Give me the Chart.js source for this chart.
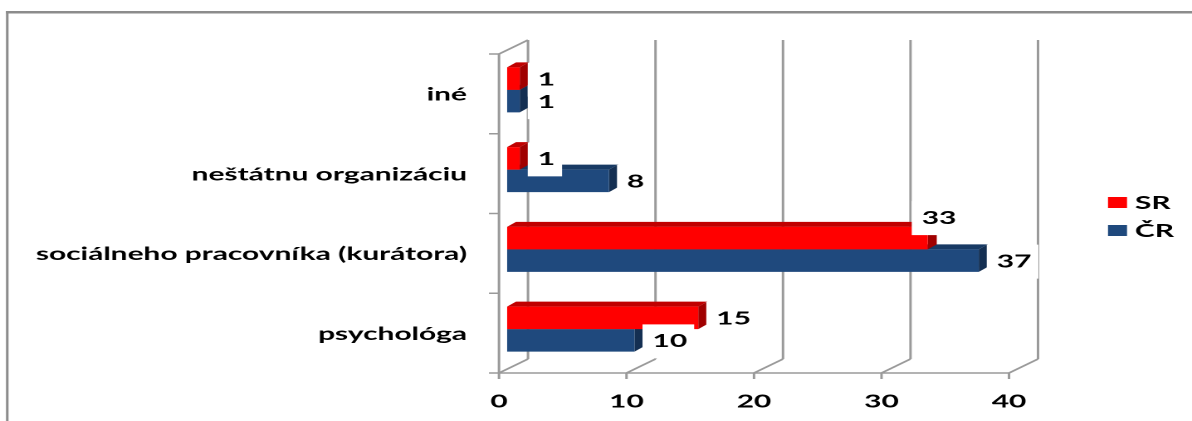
<!DOCTYPE html>
<html lang="sk">
<head>
<meta charset="utf-8">
<title>SR / ČR</title>
<script src="https://cdn.jsdelivr.net/npm/chart.js@4.4.1/dist/chart.umd.min.js"></script>
<style>
  html, body { margin: 0; padding: 0; background: #fff; }
  canvas { display: block; }
</style>
</head>
<body>
<!-- the original picture is a horizontally stretched Excel chart, so the canvas is drawn narrow and stretched by CSS -->
<canvas id="chart" width="718" height="421" style="width:1192px;height:421px"></canvas>
<script>
const categories = ['iné', 'neštátnu organizáciu', 'sociálneho pracovníka (kurátora)', 'psychológa'];
const seriesNames = ['SR', 'ČR'];
const srValues = [1, 1, 33, 15];
const crValues = [1, 8, 37, 10];
const xTicks = [0, 10, 20, 30, 40];

const SX = 1192 / 718; // horizontal stretch
const FONT = 'Lato, "Open Sans", sans-serif';

const colors = {
  sr: { front: '#ff0000', top: '#c00000', side: '#a00000' },
  cr: { front: '#1f497d', top: '#183a64', side: '#142f52' },
  grid: '#9a9a9a'
};

// data label moved by hand in the original (ref px)
const labelNudge = { '0:2': [-24, -21] };

const excel3d = {
  id: 'excel3d',
  beforeDraw(chart) {
    const ctx = chart.ctx;
    ctx.save();
    ctx.fillStyle = '#fff';
    ctx.fillRect(0, 0, chart.width, chart.height);
    // outer frame (left and top only are in the picture)
    ctx.fillStyle = '#8c8c8c';
    ctx.fillRect(6 / SX, 11, 2.5 / SX, chart.height - 11);
    ctx.fillRect(6 / SX, 11, chart.width, 2.5);
    ctx.restore();
  },
  beforeDatasetsDraw(chart) {
    const ctx = chart.ctx;
    const xs = chart.scales.x;
    const a = chart.chartArea;
    const FX = -8 / SX, BX = 21 / SX, FY = 4, BY = -10;
    const line = (x1, y1, x2, y2) => {
      ctx.beginPath(); ctx.moveTo(x1, y1); ctx.lineTo(x2, y2); ctx.stroke();
    };
    ctx.save();
    ctx.strokeStyle = colors.grid;
    ctx.lineWidth = 1.5;
    const p0 = xs.getPixelForValue(xTicks[0]);
    const pN = xs.getPixelForValue(xTicks[xTicks.length - 1]);
    // left wall
    line(p0 + FX, a.top + FY, p0 + FX, a.bottom + FY);
    line(p0 + FX, a.top + FY, p0 + BX, a.top + BY);
    const band = (a.bottom - a.top) / categories.length;
    for (let i = 0; i <= categories.length; i++) {
      const e = a.top + i * band + FY;
      line(p0 + FX - 10 / SX, e, p0 + FX, e);
    }
    // floor + back wall
    line(p0 + FX, a.bottom + FY, pN + FX, a.bottom + FY);
    xTicks.forEach(v => {
      const p = xs.getPixelForValue(v);
      line(p + BX, a.top + BY, p + BX, a.bottom + BY);
      line(p + FX, a.bottom + FY, p + BX, a.bottom + BY);
      line(p + FX, a.bottom + FY, p + FX, a.bottom + FY + 6);
    });

    // top and side faces of the bars, back series first
    const DX = 9 / SX, DY = 5;
    const shades = [colors.sr, colors.cr];
    [1, 0].forEach(di => {
      chart.getDatasetMeta(di).data.forEach(bar => {
        const { x, y, base, height } = bar.getProps(['x', 'y', 'base', 'height'], true);
        const t = y - height / 2, b = y + height / 2;
        ctx.fillStyle = shades[di].top;
        ctx.beginPath();
        ctx.moveTo(base, t); ctx.lineTo(base + DX, t - DY);
        ctx.lineTo(x + DX, t - DY); ctx.lineTo(x, t);
        ctx.closePath(); ctx.fill();
        ctx.fillStyle = shades[di].side;
        ctx.beginPath();
        ctx.moveTo(x, t); ctx.lineTo(x + DX, t - DY);
        ctx.lineTo(x + DX, b - DY); ctx.lineTo(x, b);
        ctx.closePath(); ctx.fill();
      });
    });
    ctx.restore();
  },
  afterDatasetsDraw(chart) {
    const ctx = chart.ctx;
    ctx.save();
    ctx.font = 'bold 18px ' + FONT;
    ctx.textBaseline = 'middle';
    const items = [];
    chart.data.datasets.forEach((ds, di) => {
      chart.getDatasetMeta(di).data.forEach((bar, i) => {
        const txt = String(ds.data[i]);
        const nudge = labelNudge[di + ':' + i] || [0, 0];
        const tx = bar.x + (18 + nudge[0]) / SX;
        const ty = bar.y + 1 + nudge[1];
        items.push({ txt, tx, ty, w: ctx.measureText(txt).width });
      });
    });
    ctx.fillStyle = '#fff';
    items.forEach(it => ctx.fillRect(it.tx - 10 / SX, it.ty - 17, it.w + 17 / SX, 34));
    ctx.fillStyle = '#000';
    items.forEach(it => ctx.fillText(it.txt, it.tx, it.ty));

    // legend
    chart.data.datasets.forEach((ds, di) => {
      const cy = 203 + di * 28;
      ctx.fillStyle = ds.backgroundColor;
      ctx.fillRect(1108 / SX, cy - 6, 19 / SX, 11);
      ctx.fillStyle = '#000';
      ctx.fillText(ds.label, 1135 / SX, cy);
    });
    ctx.restore();
  }
};

new Chart(document.getElementById('chart'), {
  type: 'bar',
  data: {
    labels: categories,
    datasets: [
      { label: seriesNames[0], data: srValues, backgroundColor: colors.sr.front },
      { label: seriesNames[1], data: crValues, backgroundColor: colors.cr.front }
    ]
  },
  options: {
    indexAxis: 'y',
    responsive: false,
    devicePixelRatio: 2,
    animation: false,
    events: [],
    categoryPercentage: 0.565,
    barPercentage: 1,
    layout: { padding: { top: 50, right: 175 / SX, bottom: 0, left: 0 } },
    plugins: {
      legend: { display: false },
      tooltip: { enabled: false }
    },
    scales: {
      x: {
        min: 0,
        max: 40,
        afterBuildTicks: s => { s.ticks = xTicks.map(v => ({ value: v })); },
        afterFit: s => { s.height = 52; },
        grid: { display: false, drawTicks: false },
        border: { display: false },
        ticks: {
          color: '#000',
          font: { family: FONT, size: 18, weight: 'bold' },
          padding: 22,
          labelOffset: -8 / SX,
          maxRotation: 0
        }
      },
      y: {
        afterFit: s => { s.width = 507 / SX; },
        grid: { display: false, drawTicks: false },
        border: { display: false },
        ticks: {
          color: '#000',
          font: { family: FONT, size: 18, weight: 'bold' },
          padding: 40 / SX,
          labelOffset: 5
        }
      }
    }
  },
  plugins: [excel3d]
});
</script>
</body>
</html>
